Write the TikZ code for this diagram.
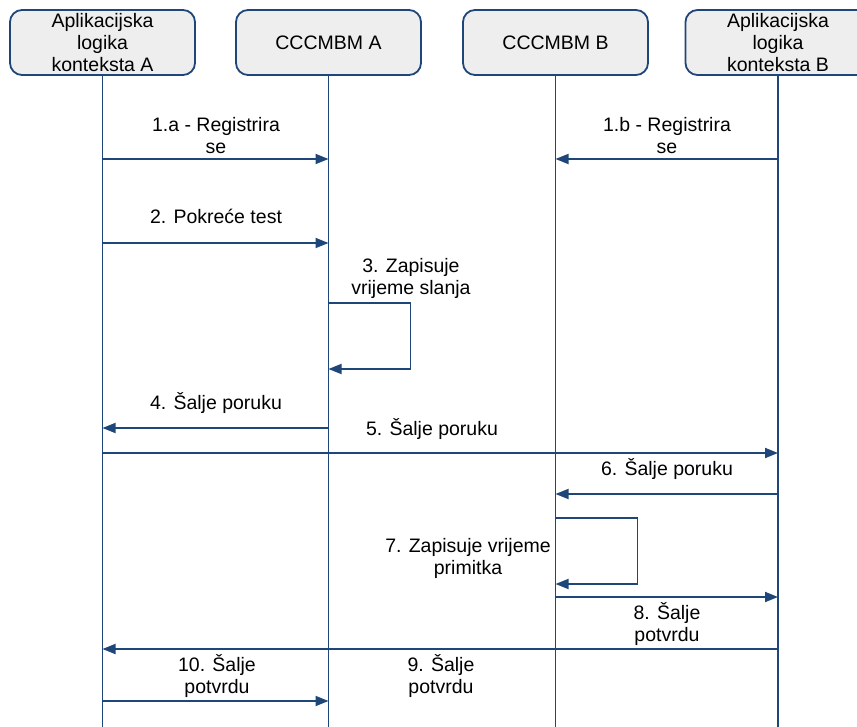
\documentclass[tikz,border=0pt]{standalone}
\usepackage{fontspec}
\setmainfont{Liberation Sans}
\usetikzlibrary{arrows.meta}
\definecolor{navy}{RGB}{30,70,120}
\definecolor{boxfill}{RGB}{238,238,238}
\tikzset{
  header/.style={draw=navy, fill=boxfill, line width=1.8pt, rounded corners=12pt,
    minimum width=185pt, minimum height=65pt, inner sep=0pt, align=center,
    font=\fontsize{19.5}{22}\selectfont},
  lifeline/.style={draw=navy, line width=1.8pt},
  msg/.style={draw=navy, line width=1.8pt, -{Triangle[length=13pt,width=10pt]}},
  lbl/.style={align=center, inner sep=0pt, font=\fontsize{19.5}{22}\selectfont}
}
\begin{document}
\begin{tikzpicture}[x=1pt,y=1pt]
\useasboundingbox (0,0) rectangle (857,-727);
\clip (0,0) rectangle (857,-727);

% participants
\node[header] (hA) at (102.5,-42.5) {Aplikacijska\\logika\\konteksta A};
\node[header] (hB) at (328.5,-42.5) {CCCMBM A};
\node[header] (hC) at (555.5,-42.5) {CCCMBM B};
\node[header] (hD) at (778,-42.5) {Aplikacijska\\logika\\konteksta B};

% lifeline ends
\coordinate (bottom) at (0,-727);
\foreach \p in {hA,hB,hC,hD} {
  \draw[lifeline] (\p.south) -- (\p |- bottom);
}

% message levels
\coordinate (y1) at (0,-159);
\coordinate (y2) at (0,-243);
\coordinate (y3t) at (0,-303);
\coordinate (y3b) at (0,-369);
\coordinate (y4) at (0,-428);
\coordinate (y5) at (0,-453);
\coordinate (y6) at (0,-494);
\coordinate (y7t) at (0,-518);
\coordinate (y7b) at (0,-584);
\coordinate (y8) at (0,-597);
\coordinate (y9) at (0,-649);
\coordinate (y10) at (0,-701);

% 1.a / 1.b registration
\draw[msg] (hA |- y1) -- (hB |- y1);
\node[lbl] (l1a) at (216,-136) {1.a -\ Registrira\\se};
\draw[msg] (hD |- y1) -- (hC |- y1);
\node[lbl] (l1b) at (667,-136) {1.b - Registrira\\se};

% 2 start test
\draw[msg] (hA |- y2) -- (hB |- y2);
\node[lbl, anchor=base] (l2) at (216,-224) {2. Pokreće test};

% 3 self call on CCCMBM A
\draw[msg] (hB |- y3t) -| ([xshift=82pt]hB |- y3b) -- (hB |- y3b);
\node[lbl] (l3) at (411,-278) {3. Zapisuje\\vrijeme slanja};

% 4 and 5
\draw[msg] (hB |- y4) -- (hA |- y4);
\node[lbl, anchor=base] (l4) at (216,-409) {4. Šalje poruku};
\draw[msg] (hA |- y5) -- (hD |- y5);
\node[lbl, anchor=base] (l5) at (432,-435) {5. Šalje poruku};

% 6
\draw[msg] (hD |- y6) -- (hC |- y6);
\node[lbl, anchor=base] (l6) at (667,-475) {6. Šalje poruku};

% 7 self call on CCCMBM B
\draw[msg] (hC |- y7t) -| ([xshift=82pt]hC |- y7b) -- (hC |- y7b);
\node[lbl] (l7) at (468,-558) {7. Zapisuje vrijeme\\primitka};

% 8, 9, 10 acknowledgements
\draw[msg] (hC |- y8) -- (hD |- y8);
\node[lbl] (l8) at (667,-624) {8. Šalje\\potvrdu};
\draw[msg] (hD |- y9) -- (hA |- y9);
\node[lbl] (l9) at (441,-676) {9. Šalje\\potvrdu};
\draw[msg] (hA |- y10) -- (hB |- y10);
\node[lbl] (l10) at (217,-676) {10. Šalje\\potvrdu};
\end{tikzpicture}
\end{document}
